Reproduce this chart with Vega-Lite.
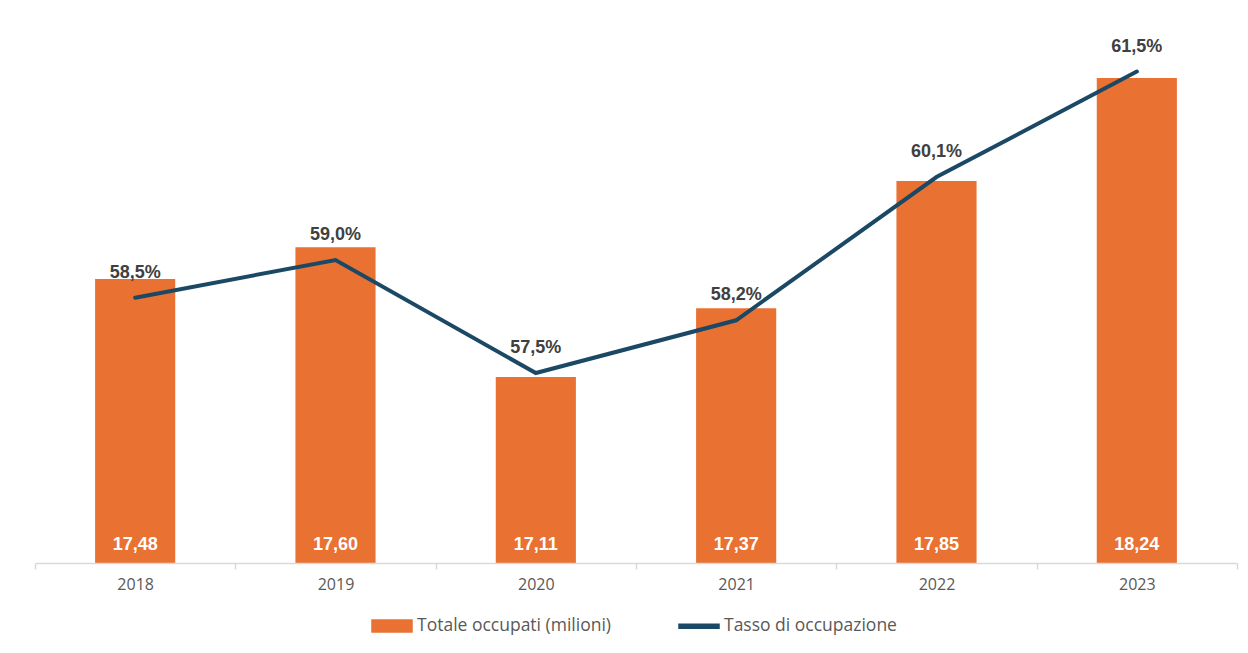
{
  "$schema": "https://vega.github.io/schema/vega-lite/v6.json",
  "width": 1202,
  "height": 551,
  "autosize": {"type": "none"},
  "padding": {"left": 35, "top": 12, "right": 11, "bottom": 90},
  "background": "white",
  "config": {
    "locale": {"number": {"decimal": ",", "thousands": ".", "grouping": [3], "currency": ["€", ""], "percent": "%"}},
    "view": {"stroke": null},
    "font": "Liberation Sans"
  },
  "data": {
    "values": [
      {"anno": "2018", "occupati": 17.48, "tasso": 0.585},
      {"anno": "2019", "occupati": 17.60, "tasso": 0.590},
      {"anno": "2020", "occupati": 17.11, "tasso": 0.575},
      {"anno": "2021", "occupati": 17.37, "tasso": 0.582},
      {"anno": "2022", "occupati": 17.85, "tasso": 0.601},
      {"anno": "2023", "occupati": 18.24, "tasso": 0.615}
    ]
  },
  "encoding": {
    "x": {
      "field": "anno",
      "type": "nominal",
      "sort": null,
      "scale": {"paddingInner": 0, "paddingOuter": 0},
      "axis": {
        "title": null,
        "labelAngle": 0,
        "tickBand": "extent",
        "domainColor": "#d9d9d9",
        "domainWidth": 1.5,
        "tickColor": "#d9d9d9",
        "tickWidth": 1.5,
        "tickSize": 6,
        "labelPadding": 7,
        "labelFont": "Open Sans",
        "labelFontSize": 16,
        "labelColor": "#595959",
        "zindex": 1
      }
    }
  },
  "layer": [
    {
      "layer": [
        {
          "mark": {"type": "bar", "width": {"band": 0.4}, "color": "#E97132"},
          "encoding": {
            "y": {"field": "occupati", "type": "quantitative", "scale": {"domain": [16.407, 18.489], "zero": false, "nice": false}, "axis": null},
            "y2": {"datum": 16.407},
            "color": {
              "datum": "Totale occupati (milioni)",
              "type": "nominal",
              "scale": {"domain": ["Totale occupati (milioni)", "Tasso di occupazione"], "range": ["#E97132", "#1B4965"]},
              "legend": {
                "orient": "none",
                "legendX": 336,
                "legendY": 593,
                "direction": "horizontal",
                "title": null,
                "padding": 0,
                "symbolSize": 1600,
                "symbolType": "M-1,-0.3H1V0.3H-1Z",
                "labelFont": "Open Sans",
                "labelFontSize": 17.5,
                "labelColor": "#595959",
                "labelLimit": 400,
                "labelOffset": 4,
                "columnPadding": 64,
                "encode": {
                  "symbols": {
                    "update": {
                      "shape": {"signal": "datum.value === 'Tasso di occupazione' ? 'M-1,-0.1H1V0.1H-1Z' : 'M-1,-0.3H1V0.3H-1Z'"},
                      "fill": {"scale": "color", "field": "value"},
                      "stroke": {"value": "transparent"},
                      "fillOpacity": {"value": 1},
                      "opacity": {"value": 1}
                    }
                  }
                }
              }
            }
          }
        },
        {
          "mark": {"type": "text", "color": "white", "fontWeight": "bold", "fontSize": 18, "baseline": "middle", "dy": -18},
          "encoding": {
            "y": {"datum": 16.407, "type": "quantitative"},
            "text": {"field": "occupati", "type": "quantitative", "format": ".2f"}
          }
        }
      ]
    },
    {
      "layer": [
        {
          "mark": {"type": "line", "strokeWidth": 4, "strokeCap": "round", "color": "#1B4965"},
          "encoding": {
            "y": {"field": "tasso", "type": "quantitative", "scale": {"domain": [0.5498, 0.6229], "zero": false, "nice": false}, "axis": null},
            "color": {"datum": "Tasso di occupazione", "type": "nominal"}
          }
        },
        {
          "mark": {"type": "text", "color": "#404040", "fontWeight": "bold", "fontSize": 18, "baseline": "middle", "dy": -25},
          "encoding": {
            "y": {"field": "tasso", "type": "quantitative"},
            "text": {"field": "tasso", "type": "quantitative", "format": ".1%"}
          }
        }
      ]
    }
  ],
  "resolve": {"scale": {"y": "independent"}}
}
